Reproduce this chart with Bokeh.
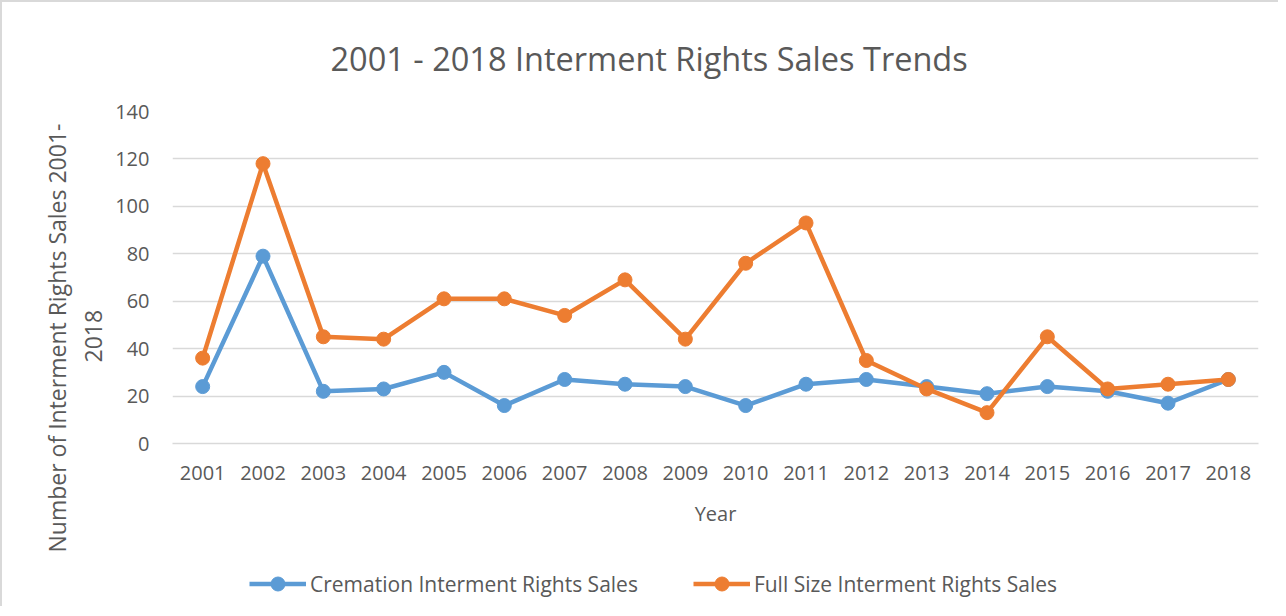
from bokeh.plotting import figure
from bokeh.models import Range1d, FactorRange, Title, Legend, LegendItem, ColumnDataSource
from bokeh.layouts import column
from bokeh.embed import file_html
from bokeh.resources import INLINE

years = [str(y) for y in range(2001, 2019)]
cremation = [24, 79, 22, 23, 30, 16, 27, 25, 24, 16, 25, 27, 24, 21, 24, 22, 17, 27]
full_size = [36, 118, 45, 44, 61, 61, 54, 69, 44, 76, 93, 35, 23, 13, 45, 23, 25, 27]
y_ticks = [0, 20, 40, 60, 80, 100, 120, 140]
series_names = ["Cremation Interment Rights Sales", "Full Size Interment Rights Sales"]

FONT = "Open Sans"
GREY = "#595959"
BLUE = "#5B9BD5"
ORANGE = "#ED7D31"

src = ColumnDataSource(dict(x=years, c=cremation, f=full_size))

# ---------------- main chart ----------------
p = figure(width=1276, height=558, x_range=FactorRange(*years), y_range=Range1d(0, 140),
           output_backend="svg", toolbar_location=None,
           min_border_left=170, min_border_right=20, min_border_top=107, min_border_bottom=117)
p.outline_line_color = None

p.line("x", "c", source=src, line_color=BLUE, line_width=4.5)
p.scatter("x", "c", source=src, size=14, fill_color=BLUE, line_color=BLUE)
p.line("x", "f", source=src, line_color=ORANGE, line_width=4.5)
p.scatter("x", "f", source=src, size=14, fill_color=ORANGE, line_color=ORANGE)

p.yaxis.ticker = y_ticks
p.yaxis.axis_line_color = None
p.yaxis.major_tick_line_color = None
p.yaxis.minor_tick_line_color = None
p.yaxis.major_label_standoff = 17
p.yaxis.major_label_text_font = FONT
p.yaxis.major_label_text_font_size = "20px"
p.yaxis.major_label_text_color = GREY

p.xaxis.axis_line_color = "#d9d9d9"
p.xaxis.axis_line_width = 1.5
p.xaxis.major_tick_line_color = None
p.xaxis.minor_tick_line_color = None
p.xaxis.major_label_standoff = 16
p.xaxis.major_label_text_font = FONT
p.xaxis.major_label_text_font_size = "20px"
p.xaxis.major_label_text_color = GREY
p.xaxis.axis_label = "Year"
p.xaxis.axis_label_text_font = FONT
p.xaxis.axis_label_text_font_size = "20px"
p.xaxis.axis_label_text_font_style = "normal"
p.xaxis.axis_label_text_color = GREY
p.xaxis.axis_label_standoff = 17

p.xgrid.grid_line_color = None
p.ygrid.grid_line_color = "#d9d9d9"
p.ygrid.grid_line_width = 1.5

t = Title(text="2001 - 2018 Interment Rights Sales Trends", align="left", offset=158,
          text_font=FONT, text_font_size="32.5px", text_font_style="normal",
          text_color=GREY, standoff=62)
p.add_layout(t, "above")

yl2 = Title(text="2018", align="left", offset=81, text_font=FONT, text_font_size="23px",
            text_font_style="normal", text_color=GREY, standoff=21)
yl1 = Title(text="Number of Interment Rights Sales 2001-", align="left", offset=-109,
            text_font=FONT, text_font_size="23px", text_font_style="normal",
            text_color=GREY, standoff=0)
p.add_layout(yl2, "left")
p.add_layout(yl1, "left")

# ---------------- legend strip ----------------
q = figure(width=1276, height=46, x_range=FactorRange(*years), y_range=Range1d(1000, 1001),
           output_backend="svg", toolbar_location=None, x_axis_location=None,
           y_axis_location=None, min_border=0)
q.outline_line_color = None
q.grid.grid_line_color = None

ql1 = q.line("x", "c", source=src, line_color=BLUE, line_width=4.5)
qs1 = q.scatter("x", "c", source=src, size=14, fill_color=BLUE, line_color=BLUE)
ql2 = q.line("x", "f", source=src, line_color=ORANGE, line_width=4.5)
qs2 = q.scatter("x", "f", source=src, size=14, fill_color=ORANGE, line_color=ORANGE)

legend = Legend(items=[LegendItem(label=series_names[0], renderers=[ql1, qs1]),
                       LegendItem(label=series_names[1], renderers=[ql2, qs2])],
                orientation="horizontal", location=(77, 5), glyph_width=57, glyph_height=35,
                label_standoff=4, spacing=55,
                label_text_font=FONT, label_text_font_size="21px",
                label_text_color=GREY, border_line_color=None, background_fill_color=None,
                background_fill_alpha=0, padding=0, margin=0)
q.add_layout(legend, "center")

layout = column(p, q, spacing=0,
                styles={"border-top": "2px solid #d9d9d9", "border-left": "2px solid #d9d9d9"})
open("out.html", "w").write(file_html(layout, INLINE))
